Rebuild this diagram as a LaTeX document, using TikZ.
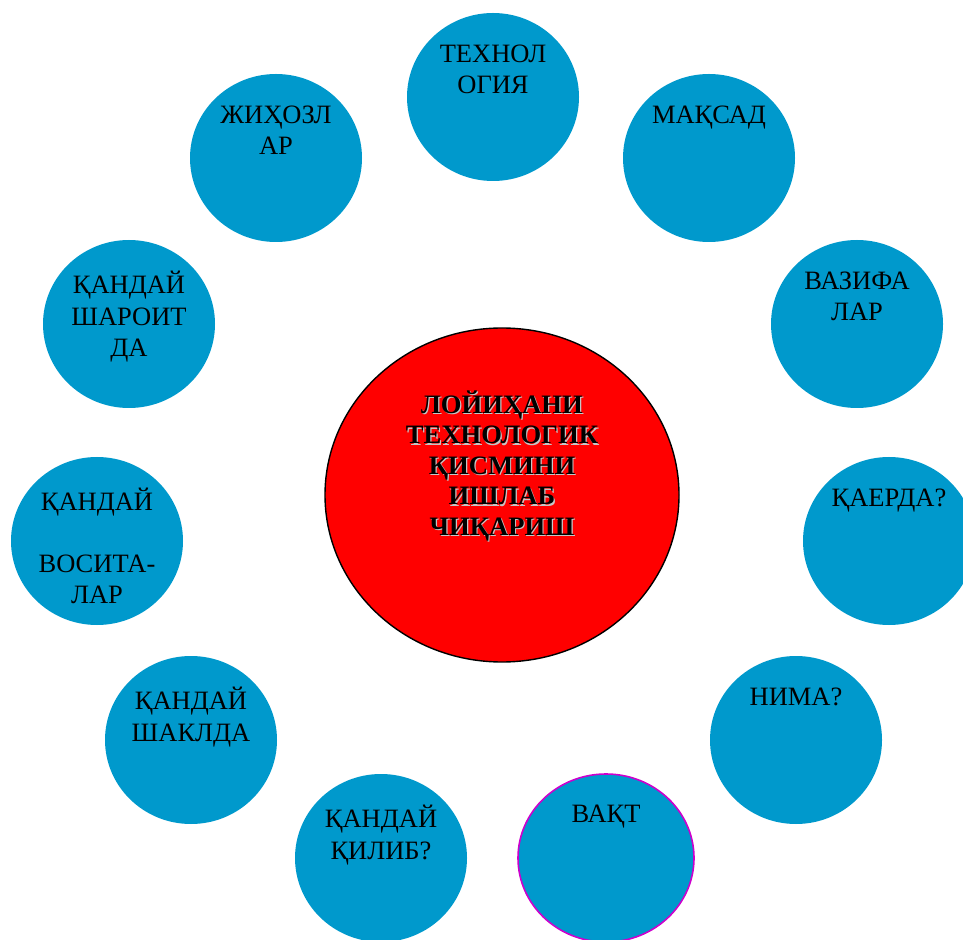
\documentclass[tikz,border=0pt]{standalone}
\usepackage{fontspec}
\setmainfont{Liberation Serif}
\usetikzlibrary{shapes.geometric, positioning}

\definecolor{bubbleblue}{RGB}{0,153,204}
\definecolor{rimmagenta}{RGB}{204,0,204}

\tikzset{
  bubble/.style={ellipse, fill=bubbleblue, inner sep=0pt, minimum width=86pt, minimum height=84pt},
  hub/.style={ellipse, fill=red, draw=black, line width=0.7pt, inner sep=0pt, minimum width=177pt, minimum height=167pt},
  caption/.style={inner sep=0pt, align=center, font=\fontsize{13.25}{15.75}\selectfont},
  hubtext/.style={inner sep=0pt, align=center, font=\fontsize{13.3}{15.25}\selectfont\bfseries},
  node distance=15.75pt
}

\begin{document}
\begin{tikzpicture}[x=0.5pt, y=-0.5pt]
      \useasboundingbox (0, 0) rectangle (963, 940);

      % outer ring
      \node[bubble] (tech) at (493, 97) {};
      \node[bubble] (maqsad) at (709, 158) {};
      \node[bubble] (vazifa) at (857, 324) {};
      \node[bubble] (qaerda) at (889, 541) {};
      \node[bubble] (nima) at (796, 740) {};
      \node[bubble, draw=rimmagenta, line width=0.8pt, minimum width=88pt] (vaqt) at (606, 858) {};
      \node[bubble] (qilib) at (381, 858) {};
      \node[bubble] (shakl) at (191, 740) {};
      \node[bubble] (vosita) at (97, 541) {};
      \node[bubble] (sharoit) at (129, 324) {};
      \node[bubble] (jihoz) at (276, 158) {};

      \node[caption, below=of tech.north] (tech-txt) {ТЕХНОЛ\\ОГИЯ};
      \node[caption, below=of maqsad.north] (maqsad-txt) {МАҚСАД};
      \node[caption, below=of vazifa.north] (vazifa-txt) {ВАЗИФА\\ЛАР};
      \node[caption, below=of qaerda.north] (qaerda-txt) {ҚАЕРДА?};
      \node[caption, below=of nima.north] (nima-txt) {НИМА?};
      \node[caption, below=of vaqt.north] (vaqt-txt) {ВАҚТ};
      \node[caption, below=of qilib.north] (qilib-txt) {ҚАНДАЙ\\ҚИЛИБ?};
      \node[caption, below=of shakl.north] (shakl-txt) {ҚАНДАЙ\\ШАКЛДА};
      \node[caption, below=of vosita.north] (vosita-txt) {ҚАНДАЙ\\[15pt]ВОСИТА-\\ЛАР};
      \node[caption, below=of sharoit.north] (sharoit-txt) {ҚАНДАЙ\\ШАРОИТ\\ДА};
      \node[caption, below=of jihoz.north] (jihoz-txt) {ЖИҲОЗЛ\\АР};

      % centre
      \node[hub] (main) at (502, 495) {};
      \node[hubtext, text=gray!45, below=31.5pt of main.north, xshift=0.6pt, yshift=-0.6pt] (main-shadow)
        {ЛОЙИҲАНИ\\ТЕХНОЛОГИК\\ҚИСМИНИ\\ИШЛАБ\\ЧИҚАРИШ};
      \node[hubtext, below=31.5pt of main.north] (main-txt)
        {ЛОЙИҲАНИ\\ТЕХНОЛОГИК\\ҚИСМИНИ\\ИШЛАБ\\ЧИҚАРИШ};
\end{tikzpicture}
\end{document}
